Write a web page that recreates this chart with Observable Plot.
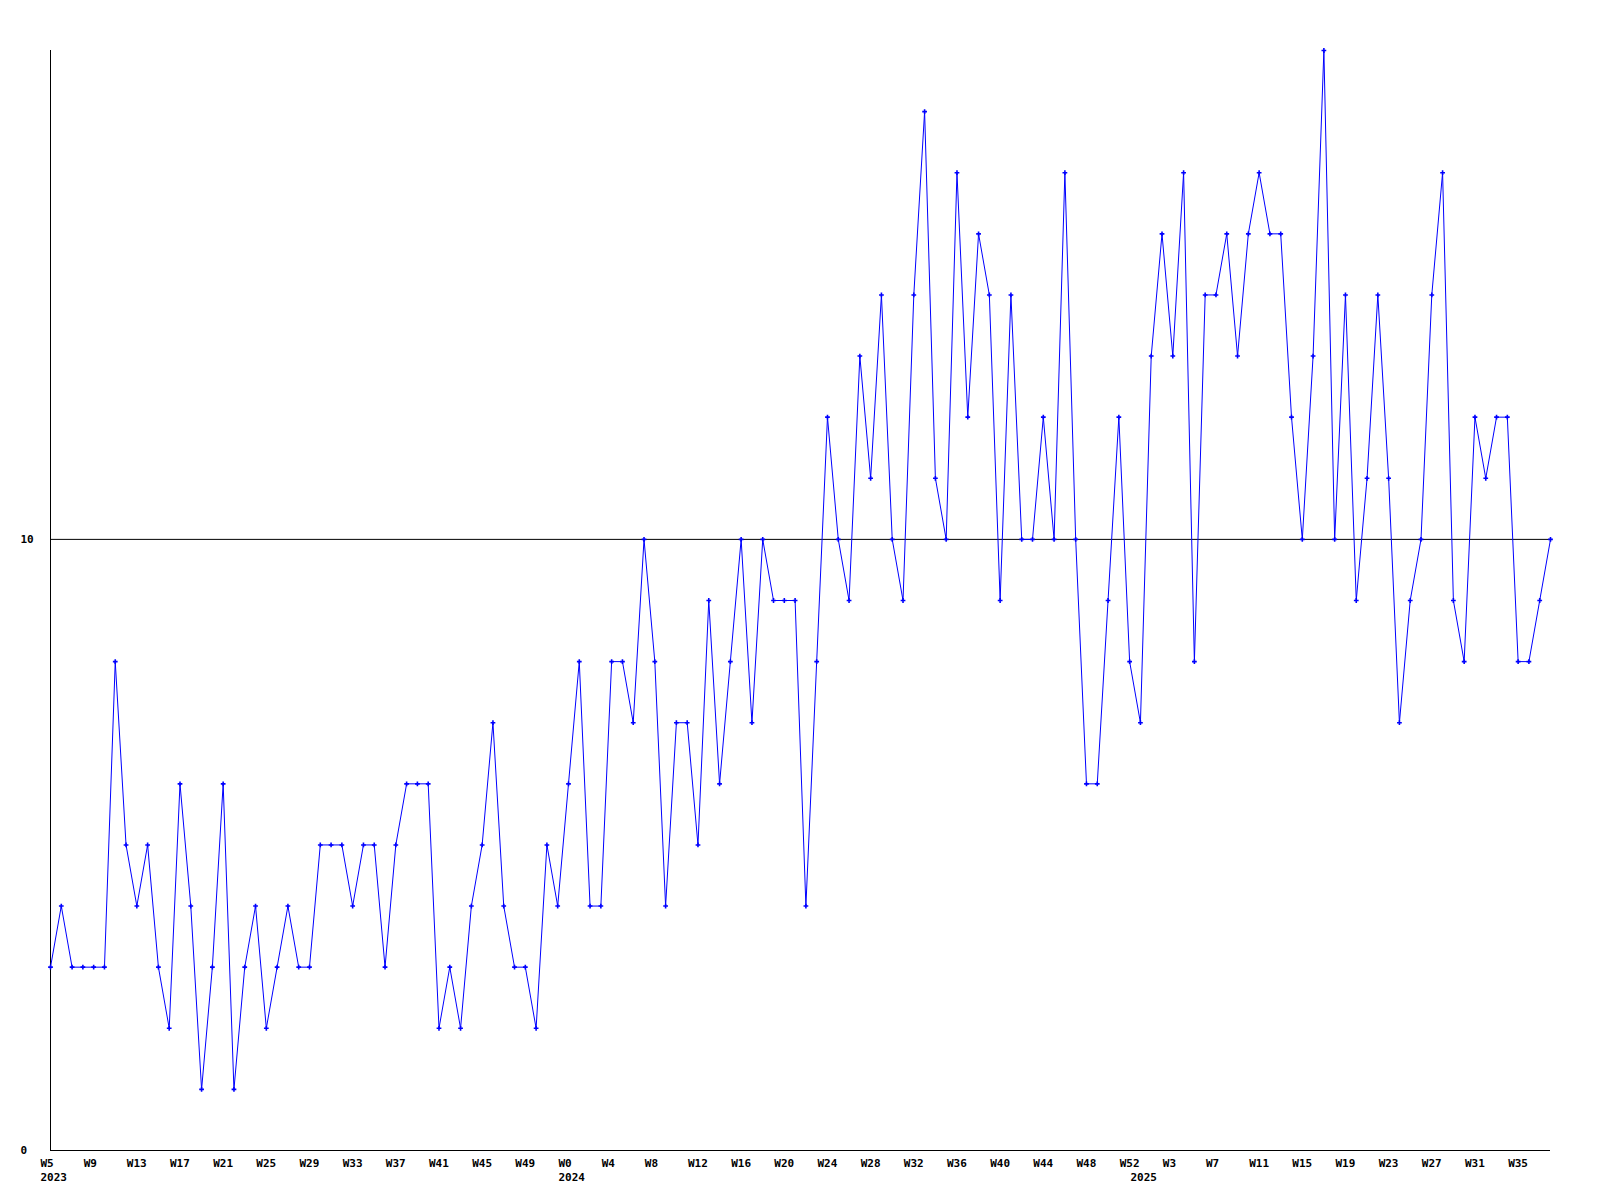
<!DOCTYPE html>
<html>
<head>
<meta charset="utf-8">
<script src="https://cdn.jsdelivr.net/npm/d3@7"></script>
<script src="https://cdn.jsdelivr.net/npm/@observablehq/plot@0.6"></script>
<style>
  html, body { margin: 0; padding: 0; background: #fff; }
  #chart { width: 1600px; height: 1200px; }
</style>
</head>
<body>
<div id="chart"></div>
<script>
// Years covered and the week ranges shown for each (week numbering as in the original, W0 = first partial week)
const years = [2023, 2024, 2025];
const firstWeek = [5, 0, 0];
const lastWeek = [52, 52, 38];

// Weekly values, one per week in order
const values = [
  3,4,3,3,3,3,8,5,4,5,3,2,6,4,1,3,6,1,3,4,2,3,4,3,3,5,5,5,4,5,5,3,5,6,6,6,2,3,2,4,5,7,4,3,3,2,5,4,
  6,8,4,4,8,8,7,10,8,4,7,7,5,9,6,8,10,7,10,9,9,9,4,8,
  12,10,9,13,11,14,10,9,14,17,11,10,16,12,15,14,9,14,10,10,
  12,10,16,10,6,6,9,12,8,7,13,15,13,16,8,14,14,15,13,15,
  16,15,15,12,10,13,18,10,14,9,11,14,11,7,9,10,14,16,9,8,
  12,11,12,12,8,8,9,10
];

// y-axis tick values
const yTicks = [0, 10];
const refLine = [10];

// Build the week categories
const weeks = [];
years.forEach((yr, i) => {
  for (let w = firstWeek[i]; w <= lastWeek[i]; w++) weeks.push({year: yr, week: w, key: `${yr}-W${w}`});
});
const data = weeks.map((w, i) => ({key: w.key, year: w.year, week: w.week, v: values[i]}));
const keys = data.map(d => d.key);
const weekTicks = keys.filter((k, i) => i % 4 === 0);
const yearTicks = years.map(yr => data.find(d => d.year === yr).key);
const byKey = new Map(data.map(d => [d.key, d]));

const FONT = "'DejaVu Sans Mono', 'Liberation Mono', monospace";

const chart = Plot.plot({
  width: 1600,
  height: 1200,
  marginLeft: 50,
  marginRight: 50,
  marginTop: 50,
  marginBottom: 50,
  style: {fontFamily: FONT, fontSize: "11px", fontWeight: "bold", background: "#fff", color: "#000"},
  x: {type: "point", domain: keys, padding: 0, axis: null, label: null},
  y: {domain: [0, 18], axis: null, label: null},
  marks: [
    Plot.ruleY(refLine, {stroke: "#000", strokeWidth: 1}),
    Plot.ruleY([0], {stroke: "#000", strokeWidth: 1}),
    Plot.ruleX([keys[0]], {stroke: "#000", strokeWidth: 1}),
    Plot.axisY(yTicks, {tickSize: 0, tickPadding: 30, textAnchor: "start", tickFormat: d => String(d), fontSize: 11, fontWeight: "bold", fontFamily: FONT, fill: "#000"}),
    Plot.axisX(weekTicks, {tickSize: 0, tickPadding: 9, textAnchor: "start", dx: -10, tickFormat: k => "W" + byKey.get(k).week, fontSize: 11, fontWeight: "bold", fontFamily: FONT, fill: "#000"}),
    Plot.axisX(yearTicks, {tickSize: 0, tickPadding: 23, textAnchor: "start", dx: -10, tickFormat: k => String(byKey.get(k).year), fontSize: 11, fontWeight: "bold", fontFamily: FONT, fill: "#000"}),
    Plot.line(data, {x: "key", y: "v", stroke: "#0000ff", strokeWidth: 1}),
    Plot.dot(data, {x: "key", y: "v", symbol: "cross", r: 2, fill: "#0000ff"})
  ]
});
document.getElementById("chart").appendChild(chart);
</script>
</body>
</html>
